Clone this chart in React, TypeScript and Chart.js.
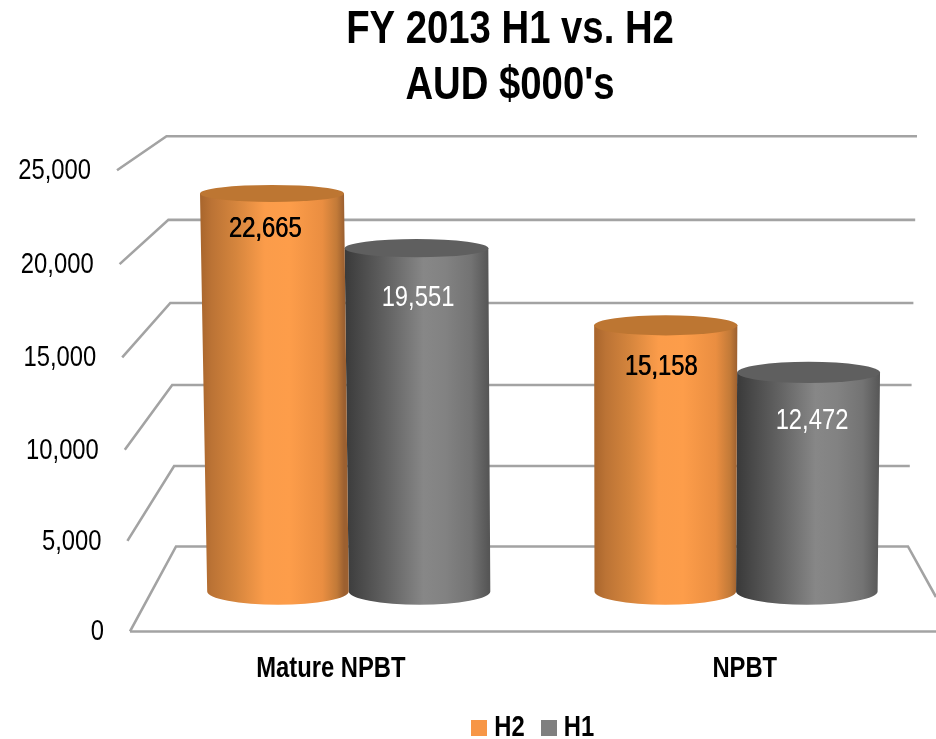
import React, { useEffect, useRef } from "react";
import { Chart, registerables } from "chart.js";

Chart.register(...registerables);

const categories = ["Mature NPBT", "NPBT"];
const h2Values = [22665, 15158];
const h1Values = [19551, 12472];
const yTicks = [0, 5000, 10000, 15000, 20000, 25000];
const titleLines = ["FY 2013 H1 vs. H2", "AUD $000's"];

const FONT = '"Liberation Sans", Arial, sans-serif';
const NARROW = 0.82; // horizontal squeeze that gives the narrow face of the reference
const ORANGE = "#f79646";
const GRAY = "#7f7f7f";
const GRID = "#a3a3a3";

// how each cylinder's label sits relative to its top centre [dx, dy]
const labelShift = [
  [[-7, 36], [-5, 42]],
  [[2, 50], [2, 49]],
];

const orangeStops: [number, string][] = [
  [0, "#a8652c"], [0.08, "#bb7335"], [0.25, "#d5853d"], [0.45, "#fb9c4a"],
  [0.62, "#fd9d4a"], [0.85, "#ea8e41"], [0.95, "#c27a38"], [1, "#9c6030"],
];
const grayStops: [number, string][] = [
  [0, "#3a3a3a"], [0.1, "#484848"], [0.3, "#636363"], [0.55, "#878787"],
  [0.7, "#828282"], [0.88, "#737373"], [1, "#565656"],
];

// 3D geometry helpers, all driven from the y scale's pixels
const bow = (y: number) => 2.8 * Math.sin((Math.PI * (631 - y)) / 461);
const backY = (y: number) => 546 + (y - 631) * (410 / 461) + bow(y);
const frontLeftX = (y: number) => 130 - ((631 - y) * 13) / 461;
const backLeftX = (y: number) => 176 - ((631 - y) * 9.5) / 461;
const backRightX = (y: number) => 908 + ((631 - y) * 9) / 461;

const perspX = (x: number, y: number) => {
  const t = (y - 193) / 398;
  return x + t * (10.6 - 0.017 * x);
};
const ellipseRy = (y: number) => 8.5 + (y - 193) * 0.012;

const swatch = (color: string) => {
  const c = document.createElement("canvas");
  c.width = 16;
  c.height = 16;
  const g = c.getContext("2d")!;
  g.fillStyle = color;
  g.fillRect(0, 0, 16, 16);
  return c;
};

const wallPlugin = {
  id: "walls",
  beforeDatasetsDraw(chart: any) {
    const { ctx, scales } = chart;
    const yScale = scales.y;
    ctx.save();
    ctx.strokeStyle = GRID;
    ctx.lineWidth = 2.6;
    ctx.lineJoin = "miter";
    yTicks.forEach((v) => {
      const y = yScale.getPixelForValue(v);
      const by = backY(y);
      ctx.beginPath();
      ctx.moveTo(frontLeftX(y), y + bow(y));
      ctx.lineTo(backLeftX(y), by);
      ctx.lineTo(backRightX(y), by);
      if (v === 0) {
        ctx.lineTo(936, 597);
      }
      ctx.stroke();
      if (v === 0) {
        ctx.beginPath();
        ctx.moveTo(frontLeftX(y), y);
        ctx.lineTo(936, y);
        ctx.stroke();
      }
    });
    ctx.restore();

    const drawCylinder = (el: any, stops: [number, string][], topColor: string) => {
      const { x, y, base, width } = el.getProps(["x", "y", "base", "width"], true);
      const half = width / 2;
      const xt = perspX(x, y);
      const xb = perspX(x, base);
      const ht = half * (1 - 0.017 * ((y - 193) / 398));
      const hb = half * (1 - 0.017);
      const ryT = ellipseRy(y);
      const ryB = ellipseRy(base);
      const grad = ctx.createLinearGradient(xt - ht, 0, xt + ht, 0);
      stops.forEach(([o, c]) => grad.addColorStop(o, c));
      ctx.save();
      ctx.fillStyle = grad;
      ctx.beginPath();
      ctx.moveTo(xt - ht, y);
      ctx.lineTo(xb - hb, base);
      ctx.ellipse(xb, base, hb, ryB, 0, Math.PI, 0, true);
      ctx.lineTo(xt + ht, y);
      ctx.closePath();
      ctx.fill();
      ctx.fillStyle = topColor;
      ctx.beginPath();
      ctx.ellipse(xt, y, ht, ryT, 0, 0, Math.PI * 2);
      ctx.fill();
      ctx.restore();
    };

    const h2Meta = chart.getDatasetMeta(0).data;
    const h1Meta = chart.getDatasetMeta(1).data;
    h1Meta.forEach((el: any) => drawCylinder(el, grayStops, "#5f5f5f"));
    h2Meta.forEach((el: any) => drawCylinder(el, orangeStops, "#bd7632"));

    ctx.save();
    ctx.textAlign = "center";
    ctx.textBaseline = "middle";
    [h2Meta, h1Meta].forEach((meta: any[], d: number) => {
      const values = d === 0 ? h2Values : h1Values;
      meta.forEach((el: any, i: number) => {
        const { x, y } = el.getProps(["x", "y"], true);
        ctx.font = `29px ${FONT}`;
        ctx.fillStyle = d === 0 ? "#000000" : "#ffffff";
        const tx = x + labelShift[d][i][0];
        const ty = y + labelShift[d][i][1];
        const text = values[i].toLocaleString("en-US");
        ctx.fillText(text, tx, ty);
        if (d === 0) {
          // the dark labels read slightly heavier than regular
          ctx.fillText(text, tx + 0.6, ty);
        }
      });
    });
    ctx.restore();
    return false; // cylinders replace the flat bars
  },
};

const layoutPlugin = {
  id: "placeBlocks",
  afterLayout(chart: any) {
    chart.titleBlock.left = 84;
    chart.titleBlock.right = 936;
    chart.legend.left = 137;
    chart.legend.right = 936;
    chart.legend.top = 689.5;
    chart.scales.x.bottom = 692;
  },
  beforeDraw(chart: any) {
    // y labels follow the slanted front edge; x labels sit on the front plane
    const ys = chart.scales.y;
    ys.getLabelItems().forEach((item: any, i: number) => {
      const y = ys.getPixelForTick(i);
      item.options.textAlign = "right";
      item.options.translation[0] = frontLeftX(y) - 26;
      item.options.translation[1] = y + bow(y) + 1;
    });
    const xs = chart.scales.x;
    xs.getLabelItems().forEach((item: any, i: number) => {
      const px = xs.getPixelForTick(i);
      item.options.translation[0] = (px - 29) / 0.952;
    });
  },
};

export default function App() {
  const ref = useRef<HTMLCanvasElement | null>(null);
  useEffect(() => {
    if (!ref.current) return;
    // squeeze all text horizontally about its anchor, so it reads as a narrow face
    const c2d: any = ref.current.getContext("2d");
    const rawFill = c2d.fillText.bind(c2d);
    const rawMeasure = c2d.measureText.bind(c2d);
    c2d.fillText = (t: string, x: number, y: number, mw?: number) => {
      c2d.save();
      c2d.translate(x, y);
      c2d.scale(NARROW, 1);
      if (mw === undefined) rawFill(t, 0, 0);
      else rawFill(t, 0, 0, mw / NARROW);
      c2d.restore();
    };
    c2d.measureText = (t: string) => {
      const m = rawMeasure(t);
      return { width: m.width * NARROW, actualBoundingBoxAscent: m.actualBoundingBoxAscent, actualBoundingBoxDescent: m.actualBoundingBoxDescent };
    };
    const chart = new Chart(ref.current, {
      type: "bar",
      data: {
        labels: categories,
        datasets: [
          { label: "H2", data: h2Values, backgroundColor: ORANGE, pointStyle: swatch(ORANGE), yAxisID: "yBars" },
          { label: "H1", data: h1Values, backgroundColor: GRAY, pointStyle: swatch(GRAY), yAxisID: "yBars" },
        ],
      },
      options: {
        responsive: false,
        animation: false,
        layout: { padding: { left: 0, right: 1, top: 0, bottom: 0 } },
        datasets: { bar: { barPercentage: 1, categoryPercentage: 0.731 } },
        plugins: {
          title: {
            display: true,
            text: titleLines,
            color: "#000000",
            font: { family: FONT, size: 46.7, weight: "bold", lineHeight: 1.18 },
            padding: { top: 3, bottom: 57 },
          },
          legend: {
            display: true,
            position: "bottom",
            labels: {
              usePointStyle: true,
              pointStyleWidth: 1,
              boxHeight: 16,
              padding: 23.5,
              color: "#000000",
              font: { family: FONT, size: 29, weight: "bold" },
            },
          },
          tooltip: { enabled: false },
        },
        scales: {
          x: {
            type: "category",
            grid: { display: false, drawTicks: false },
            border: { display: false },
            ticks: {
              color: "#000000",
              padding: 20,
              font: { family: FONT, size: 29, weight: "bold" },
            },
            afterFit: (s: any) => {
              s.height = 45;
            },
          },
          y: {
            type: "linear",
            min: 0,
            max: 25000,
            grid: { display: false, drawTicks: false },
            border: { display: false },
            afterBuildTicks: (s: any) => {
              s.ticks = yTicks.map((value) => ({ value }));
            },
            afterFit: (s: any) => {
              s.width = 147;
            },
            ticks: {
              color: "#000000",
              font: { family: FONT, size: 29 },
              callback: (v: any) => Number(v).toLocaleString("en-US"),
            },
          },
          yBars: {
            type: "linear",
            display: false,
            min: -2279,
            max: 23989,
          },
        },
      },
      plugins: [wallPlugin, layoutPlugin],
    } as any);
    return () => chart.destroy();
  }, []);
  return (
    <div style={{ position: "absolute", left: 0, top: 0, width: 936, height: 739, background: "#ffffff" }}>
      <canvas ref={ref} width={936} height={739} style={{ display: "block" }} />
    </div>
  );
}
